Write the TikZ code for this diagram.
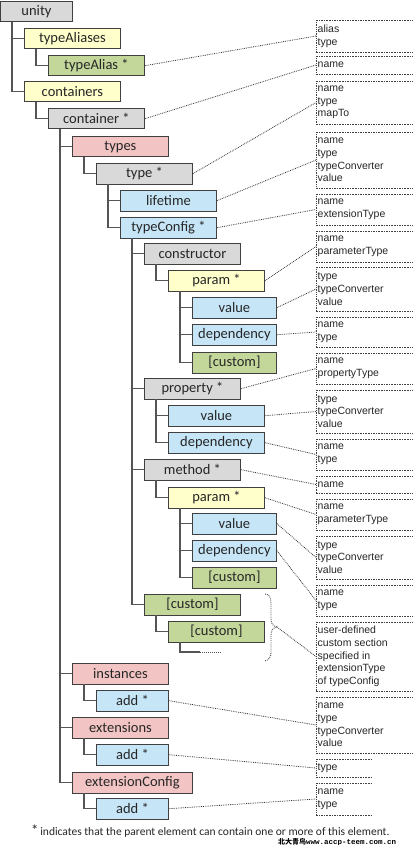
\documentclass[tikz,border=0pt]{standalone}
\usepackage{fontspec}
\setmainfont{Carlito}
\newfontfamily\arialf{Liberation Sans}
\newfontfamily\cjkf{Noto Sans CJK SC}
\newfontfamily\monof{Liberation Mono}
\definecolor{cgray}{HTML}{D9D9D9}
\definecolor{cyel}{HTML}{FFFFCC}
\definecolor{cgrn}{HTML}{C4D79B}
\definecolor{cpink}{HTML}{F2C4C4}
\definecolor{cblue}{HTML}{C6E6F8}
\definecolor{cborder}{HTML}{404040}
\definecolor{ctree}{HTML}{555555}
\newcommand{\el}[6]{\node[elbox,#5,minimum width=#4pt,anchor=north west] (#1) at (#2,#3) {#6};}
\newcommand{\attrbox}[5]{%
  \draw[attrv] (316,#2) -- (316,#3);
  \draw[attrh] (316,#2) -- (#4,#2) (316,#3) -- (#4,#3);
  \node[attrtext,anchor=west] (#1) at (316,{(#2+#3)/2}) {#5};}
\newcommand{\br}[2]{\draw[tree] ([xshift=12pt]#1.south west) |- (#2.west);}
\begin{document}
\begin{tikzpicture}[x=1pt,y=-1pt,
  elbox/.style={draw=cborder,line width=0.9pt,inner sep=0pt,minimum height=20.5pt,
    font=\fontsize{14.5}{16}\selectfont,text=black!85},
  gr/.style={fill=cgray},
  ye/.style={fill=cyel},
  gn/.style={fill=cgrn},
  pk/.style={fill=cpink},
  bl/.style={fill=cblue},
  tree/.style={draw=ctree,line width=1.5pt},
  attrv/.style={draw=black!75,line width=0.8pt,densely dotted},
  attrh/.style={draw=black!75,line width=0.8pt,dash pattern=on 1.6pt off 1pt},
  attrtext/.style={font=\arialf\fontsize{10.5}{12.7}\selectfont,align=left,inner xsep=1.5pt,inner ysep=0pt,text=black!85},
  conn/.style={draw=black!80,line width=0.8pt,densely dotted}]
\useasboundingbox (0,0) rectangle (413,845);
% elements
\el{unity}{0}{1}{72}{gr}{unity}
\el{tal}{24}{28}{96}{ye}{typeAliases}
\el{ta}{48}{55}{96}{gn}{typeAlias *}
\el{cts}{24}{81}{96}{ye}{containers}
\el{ct}{48}{108}{96}{gr}{container *}
\el{types}{72}{136}{96}{pk}{types}
\el{type}{96}{163}{96}{gr}{type *}
\el{life}{120}{190}{96}{bl}{lifetime}
\el{tc}{120}{217}{96}{bl}{typeConfig *}
\el{ctor}{144}{243}{96}{gr}{constructor}
\el{p1}{168}{270}{96}{ye}{param *}
\el{v1}{192}{297}{84}{bl}{value}
\el{d1}{192}{324}{84}{bl}{dependency}
\el{c1}{192}{352}{84}{gn}{[custom]}
\el{prop}{144}{378}{96}{gr}{property *}
\el{v2}{168}{405}{96}{bl}{value}
\el{d2}{168}{432}{96}{bl}{dependency}
\el{meth}{144}{459}{96}{gr}{method *}
\el{p2}{168}{487}{96}{ye}{param *}
\el{v3}{192}{513}{84}{bl}{value}
\el{d3}{192}{540}{84}{bl}{dependency}
\el{c2}{192}{567}{84}{gn}{[custom]}
\el{c3}{144}{594}{96}{gn}{[custom]}
\el{c4}{168}{621}{96}{gn}{[custom]}
\el{inst}{72}{663}{96}{pk}{instances}
\el{a1}{96}{690}{72}{bl}{add *}
\el{ext}{72}{717}{96}{pk}{extensions}
\el{a2}{96}{744}{72}{bl}{add *}
\el{extc}{72}{772}{120}{pk}{extensionConfig}
\el{a3}{96}{798}{72}{bl}{add *}
% tree
\br{unity}{tal}\br{unity}{cts}
\br{tal}{ta}\br{cts}{ct}
\br{ct}{types}\br{ct}{inst}\br{ct}{ext}\br{ct}{extc}
\br{types}{type}
\br{type}{life}\br{type}{tc}
\br{tc}{ctor}\br{tc}{prop}\br{tc}{meth}\br{tc}{c3}
\br{ctor}{p1}
\br{p1}{v1}\br{p1}{d1}\br{p1}{c1}
\br{prop}{v2}\br{prop}{d2}
\br{meth}{p2}
\br{p2}{v3}\br{p2}{d3}\br{p2}{c2}
\br{c3}{c4}
\br{inst}{a1}\br{ext}{a2}\br{extc}{a3}
\coordinate (dotsmid) at (200,652);
\coordinate (dotsend) at (222,652);
\draw[tree] ([xshift=12pt]c4.south west) |- (dotsmid);
\draw[draw=ctree,line width=1pt,densely dotted] (dotsmid) -- (dotsend);
% brace
\coordinate (bracetip) at (277,627);
\draw[draw=black!70,line width=0.9pt,densely dotted]
  (265,594) .. controls (269,594) and (271,597) .. (271,603) -- (271,619)
  .. controls (271,624) and (273,626) .. (bracetip)
  .. controls (273,628) and (271,630) .. (271,635) -- (271,652)
  .. controls (271,657) and (269,660) .. (265,661);
% attribute boxes
\attrbox{b1}{20}{52}{413}{alias\\type}
\attrbox{b2}{56}{74}{413}{name}
\attrbox{b3}{81}{124}{413}{name\\type\\mapTo}
\attrbox{b4}{132}{188}{413}{name\\type\\typeConverter\\value}
\attrbox{b5}{194}{225}{413}{name\\extensionType}
\attrbox{b6}{231}{262}{413}{name\\parameterType}
\attrbox{b7}{267}{311}{413}{type\\typeConverter\\value}
\attrbox{b8}{317}{347}{413}{name\\type}
\attrbox{b9}{353}{384}{413}{name\\propertyType}
\attrbox{b10}{390}{433}{413}{type\\typeConverter\\value}
\attrbox{b11}{439}{470}{413}{name\\type}
\attrbox{b12}{476}{493}{413}{name}
\attrbox{b13}{499}{530}{413}{name\\parameterType}
\attrbox{b14}{536}{579}{413}{type\\typeConverter\\value}
\attrbox{b15}{585}{616}{413}{name\\type}
\attrbox{b16}{622}{691}{413}{user-defined\\custom section\\specified in\\extensionType\\of typeConfig}
\attrbox{b17}{697}{753}{413}{name\\type\\typeConverter\\value}
\attrbox{b18}{759}{777}{372}{type}
\attrbox{b19}{783}{815}{372}{name\\type}
% connectors
\draw[conn] (ta.east) -- (b1.west);
\draw[conn] (ct.east) -- (b2.west);
\draw[conn] (type.east) -- (b3.west);
\draw[conn] (life.east) -- (b4.west);
\draw[conn] (tc.east) -- (b5.west);
\draw[conn] (p1.east) -- (b6.west);
\draw[conn] (v1.east) -- (b7.west);
\draw[conn] (d1.east) -- (b8.west);
\draw[conn] (prop.east) -- (b9.west);
\draw[conn] (v2.east) -- (b10.west);
\draw[conn] (d2.east) -- (b11.west);
\draw[conn] (meth.east) -- (b12.west);
\draw[conn] (p2.east) -- (b13.west);
\draw[conn] (v3.east) -- (b14.west);
\draw[conn] (d3.east) -- (b15.west);
\draw[conn] (bracetip) -- (b16.west);
\draw[conn] (a1.east) -- (b17.west);
\draw[conn] (a2.east) -- (b18.west);
\draw[conn] (a3.east) -- (b19.west);
% footnote
\node[anchor=west,inner sep=0pt,text=black!85] (foot) at (31,831.5)
  {{\fontsize{15}{15}\selectfont *}\,{\fontsize{11.5}{13}\selectfont indicates that the parent element can contain one or more of this element.}};
\node[anchor=west,inner sep=0pt,font=\bfseries] (wm) at (278,842)
  {{\cjkf\fontsize{7}{7}\selectfont 北大青鸟}{\monof\fontsize{7.5}{7.5}\selectfont www.accp-teem.com.cn}};
\end{tikzpicture}
\end{document}
